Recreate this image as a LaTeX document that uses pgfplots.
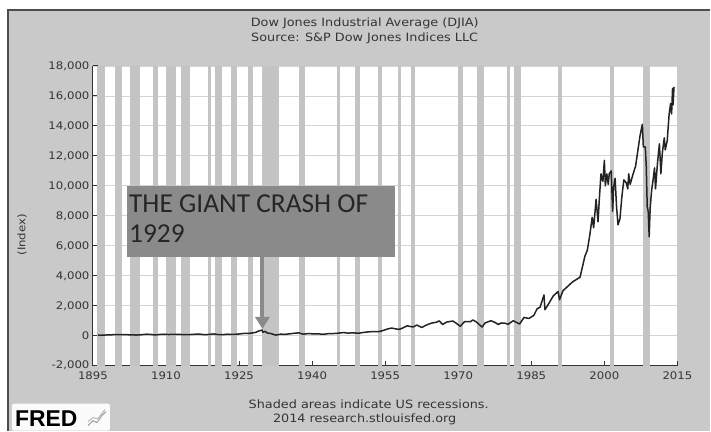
\documentclass[border=0pt]{standalone}
\usepackage{pgfplots}
\pgfplotsset{compat=1.18}
\usepackage{fontspec}
\setmainfont{DejaVu Sans}[FakeStretch=1.12]
\newfontfamily\calib{Carlito}
\newfontfamily\logofont{Liberation Sans}
\usetikzlibrary{arrows.meta}

\definecolor{bg}{RGB}{201,201,201}
\definecolor{band}{RGB}{196,196,196}
\definecolor{gridc}{RGB}{212,212,212}
\definecolor{txt}{RGB}{52,52,52}
\definecolor{boxc}{RGB}{138,138,138}
\definecolor{linec}{RGB}{35,35,35}

% recession band, years as decimals
\newcommand\rec[2]{\addplot[draw=none, fill=band, forget plot]
  coordinates {(#1,-2000) (#1,18000) (#2,18000) (#2,-2000)} -- cycle;}

\pgfplotstableread{
year djia
1896.0 40
1896.6 29
1897.0 42
1897.8 50
1898.5 52
1899.3 75
1900.0 66
1900.8 68
1901.4 77
1902.2 65
1903.0 60
1903.8 45
1904.6 55
1905.3 80
1906.0 100
1906.8 90
1907.5 60
1907.9 55
1908.6 80
1909.6 100
1910.5 80
1911.3 85
1912.3 92
1913.3 78
1914.4 72
1915.3 85
1916.0 98
1916.9 105
1917.9 70
1918.6 82
1919.8 118
1920.8 70
1921.6 68
1922.6 100
1923.5 90
1924.5 100
1925.4 130
1926.0 155
1926.9 150
1927.6 180
1928.4 220
1929.0 310
1929.7 381
1929.9 230
1930.3 290
1930.9 170
1931.5 150
1932.5 42
1933.5 100
1934.5 95
1935.5 130
1936.5 170
1937.2 190
1938.2 100
1939.2 145
1940.4 120
1941.4 120
1942.3 95
1943.4 140
1944.4 145
1945.5 175
1946.4 210
1947.3 175
1948.4 190
1949.5 165
1950.5 215
1951.5 255
1952.5 275
1953.6 265
1954.5 340
1955.5 450
1956.3 510
1957.8 420
1958.5 500
1959.5 660
1960.7 580
1961.5 710
1962.5 550
1963.5 720
1964.5 840
1965.5 900
1966.1 990
1966.8 750
1967.6 910
1968.9 980
1969.6 830
1970.4 630
1971.3 940
1972.5 940
1973.0 1050
1973.7 920
1974.9 580
1975.5 850
1976.7 1000
1977.6 880
1978.2 750
1978.8 850
1979.7 830
1980.2 760
1981.3 1000
1982.6 780
1983.5 1220
1984.5 1150
1985.5 1350
1986.2 1800
1986.8 1900
1987.6 2720
1987.8 1740
1988.5 2100
1989.5 2650
1990.5 2950
1990.8 2400
1991.5 3000
1992.5 3300
1993.5 3600
1994.5 3800
1995.0 3900
1995.5 4600
1996.0 5300
1996.5 5700
1997.0 6700
1997.5 7900
1997.8 7200
1998.3 9100
1998.7 7600
1999.0 9300
1999.3 10800
1999.7 10300
2000.0 11700
2000.2 10000
2000.5 10800
2000.8 10100
2001.0 10800
2001.4 11000
2001.7 8300
2001.9 9900
2002.2 10500
2002.5 8600
2002.8 7400
2003.2 7800
2003.6 9300
2004.0 10400
2004.5 10200
2004.8 9800
2005.0 10800
2005.3 10100
2005.9 10800
2006.4 11300
2006.9 12400
2007.3 13300
2007.6 13800
2007.8 14100
2008.0 12600
2008.4 12600
2008.6 11300
2008.8 8600
2009.0 8300
2009.2 6600
2009.4 8500
2009.7 9700
2010.0 10400
2010.3 11200
2010.5 9800
2010.9 11500
2011.3 12800
2011.6 10800
2011.9 12200
2012.3 13200
2012.5 12400
2012.9 13000
2013.3 14800
2013.6 15500
2013.8 14800
2014.0 16500
2014.1 15400
2014.3 16600
}\djia

\begin{document}
\begin{tikzpicture}
% page background (screenshot frame)
\fill[white] (0bp,0bp) rectangle (711bp,431bp);
\fill[bg] (8bp,0bp) rectangle (711bp,421bp);
\draw[black!70, line width=1.2bp] (8bp,0bp) -- (8bp,421bp) -- (711bp,421bp);

\begin{axis}[
    at={(93bp,65bp)}, anchor=south west,
    scale only axis,
    width=585bp, height=300bp,
    xmin=1895, xmax=2015,
    ymin=-2000, ymax=18000,
    axis x line*=bottom, axis y line*=left,
    axis line style={black!80, line width=0.9bp},
    axis background/.style={fill=white},
    tick align=inside,
    major tick length=5bp,
    tick style={black!80, line width=0.9bp},
    xtick={1895,1910,...,2015},
    ytick={-2000,0,...,18000},
    scaled y ticks=false,
    ymajorgrids=true,
    grid style={gridc, line width=0.8bp},
    /pgf/number format/assume math mode=true,
    x tick label style={font=\fontsize{10.5}{12}\selectfont, text=txt,
        /pgf/number format/1000 sep={}},
    y tick label style={font=\fontsize{10.5}{12}\selectfont, text=txt,
        /pgf/number format/1000 sep={,}},
    xticklabel shift=3bp,
    yticklabel shift=0bp,
]
\rec{1895.92}{1897.46}
\rec{1899.46}{1900.96}
\rec{1902.71}{1904.63}
\rec{1907.38}{1908.46}
\rec{1910.04}{1912.04}
\rec{1913.04}{1914.96}
\rec{1918.63}{1919.21}
\rec{1920.04}{1921.54}
\rec{1923.38}{1924.54}
\rec{1926.79}{1927.88}
\rec{1929.63}{1933.21}
\rec{1937.38}{1938.46}
\rec{1945.13}{1945.79}
\rec{1948.88}{1949.79}
\rec{1953.54}{1954.38}
\rec{1957.63}{1958.29}
\rec{1960.29}{1961.13}
\rec{1969.96}{1970.88}
\rec{1973.88}{1975.21}
\rec{1980.04}{1980.54}
\rec{1981.54}{1982.88}
\rec{1990.54}{1991.21}
\rec{2001.21}{2001.88}
\rec{2007.96}{2009.46}

\addplot[linec, line width=1.5bp, line join=round] table[x=year, y=djia] {\djia};

% annotation
\fill[boxc] (axis cs:1901.9,5270) rectangle (axis cs:1957.1,10000);
\node[anchor=north west, align=left, inner sep=0pt, text=black!85,
      font=\calib\fontsize{27.5}{31}\selectfont]
  at (axis cs:1902.4,9450) {THE GIANT CRASH OF\\1929};
\draw[boxc, line width=4bp, -{Triangle[width=14bp,length=12bp]}]
  (axis cs:1929.8,5300) -- (axis cs:1929.8,450);
\end{axis}

% titles and notes
\node[text=txt, font=\fontsize{11.5}{13}\selectfont] at (365bp,408bp) {Dow Jones Industrial Average (DJIA)};
\node[text=txt, font=\fontsize{11.5}{13}\selectfont] at (365bp,393bp) {Source: S\&P Dow Jones Indices LLC};
\node[text=txt, rotate=90, font=\fontsize{10.5}{12}\selectfont] at (22bp,196bp) {(Index)};
\node[text=txt, font=\fontsize{11.5}{13}\selectfont] at (369bp,26bp) {Shaded areas indicate US recessions.};
\node[text=txt, font=\fontsize{11.5}{13}\selectfont] at (365bp,11bp) {2014 research.stlouisfed.org};

% FRED logo
\fill[white!92!bg, rounded corners=2bp] (12bp,0bp) rectangle (110bp,27bp);
\node[anchor=west, inner sep=0pt, font=\logofont\bfseries\fontsize{23}{23}\selectfont]
  at (15bp,12bp) {FRED};
\draw[bg!80!black, line width=1bp] (88bp,5bp) -- (93bp,10bp) -- (97bp,8bp) -- (102bp,15bp) -- (106bp,19bp);
\draw[bg!90!black, line width=1bp] (88bp,9bp) -- (93bp,13bp) -- (98bp,12bp) -- (105bp,21bp);
\end{tikzpicture}
\end{document}
